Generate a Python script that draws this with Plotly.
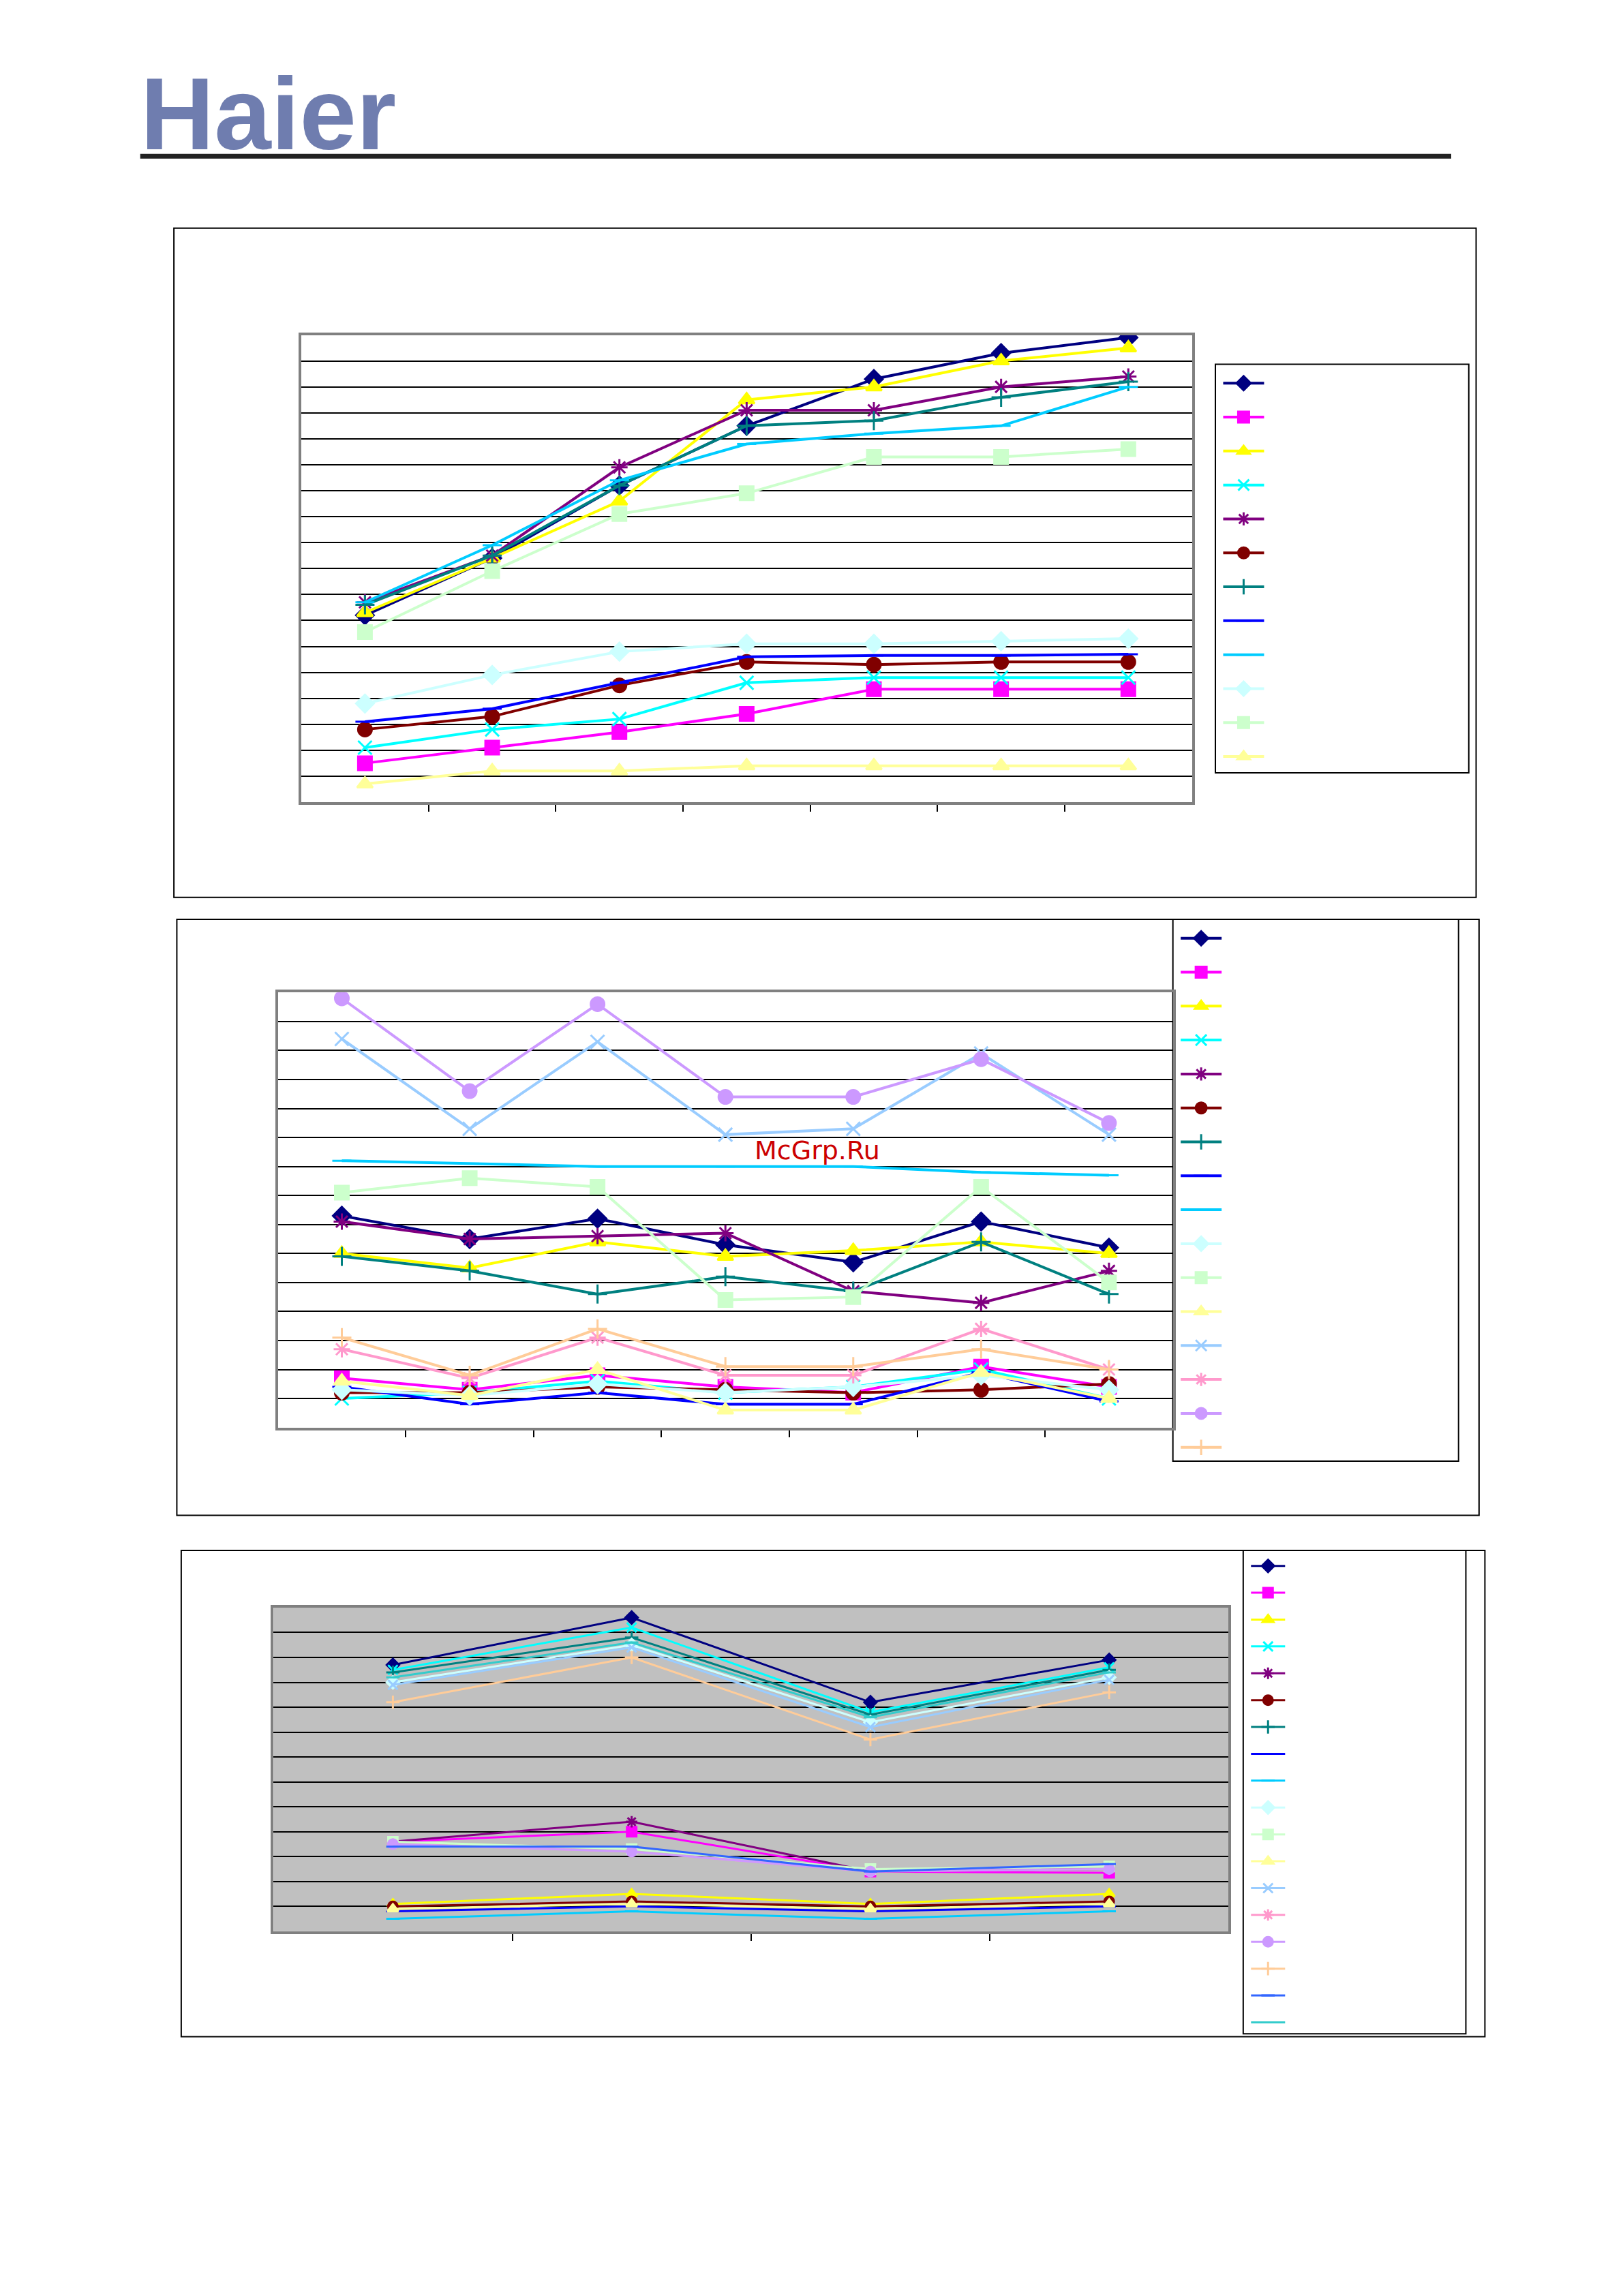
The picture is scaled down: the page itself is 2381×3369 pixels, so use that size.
import plotly.graph_objects as go

W, H = 2381, 3369
S = 2381 / 1108.0  # display->orig scale

def px(x): return (x - 3) * S / W
def py(y): return 1 - (y - 3) * S / H

COLORS = ["#000080", "#FF00FF", "#FFFF00", "#00FFFF", "#800080", "#800000", "#008080",
          "#0000FF", "#00CCFF", "#CCFFFF", "#CCFFCC", "#FFFF99", "#99CCFF", "#FF99CC",
          "#CC99FF", "#FFCC99", "#3366FF", "#33CCCC"]
SYMBOLS = ["diamond", "square", "triangle-up", "x-thin-open", "asterisk-open", "circle",
           "cross-thin-open", "line-ew-open", "line-ew-open", "diamond", "square", "triangle-up",
           "x-thin-open", "asterisk-open", "circle", "cross-thin-open", "line-ew-open", "line-ew-open"]

cats1 = ["1", "2", "3", "4", "5", "6", "7"]
chart1 = [
    [7.2, 9.4, 12.2, 14.5, 16.3, 17.3, 17.9],
    [1.5, 2.1, 2.7, 3.4, 4.35, 4.35, 4.35],
    [7.3, 9.4, 11.6, 15.5, 16.0, 17.0, 17.5],
    [2.1, 2.8, 3.2, 4.6, 4.8, 4.8, 4.8],
    [7.7, 9.5, 12.9, 15.1, 15.1, 16.0, 16.4],
    [2.8, 3.3, 4.5, 5.4, 5.3, 5.4, 5.4],
    [7.6, 9.5, 12.2, 14.5, 14.7, 15.6, 16.2],
    [3.1, 3.6, 4.6, 5.6, 5.65, 5.65, 5.7],
    [7.7, 9.9, 12.4, 13.8, 14.2, 14.5, 16.0],
    [3.8, 4.9, 5.8, 6.1, 6.1, 6.2, 6.3],
    [6.55, 8.9, 11.1, 11.9, 13.3, 13.3, 13.6],
    [0.7, 1.2, 1.2, 1.4, 1.4, 1.4, 1.4],
]
cats2 = ["1", "2", "3", "4", "5", "6", "7"]
chart2 = [
    [7.3, 6.5, 7.2, 6.3, 5.7, 7.1, 6.2],
    [1.7, 1.3, 1.8, 1.4, 1.2, 2.1, 1.4],
    [6.0, 5.5, 6.4, 5.9, 6.1, 6.4, 6.0],
    [1.0, 1.2, 1.6, 1.2, 1.4, 2.0, 1.0],
    [7.1, 6.5, 6.6, 6.7, 4.7, 4.3, 5.4],
    [1.2, 1.2, 1.4, 1.3, 1.2, 1.3, 1.5],
    [5.9, 5.4, 4.6, 5.2, 4.7, 6.4, 4.6],
    [1.4, 0.8, 1.2, 0.8, 0.8, 1.9, 0.9],
    [9.2, 9.1, 9.0, 9.0, 9.0, 8.8, 8.7],
    [1.3, 1.1, 1.5, 1.2, 1.4, 1.8, 1.3],
    [8.1, 8.6, 8.3, 4.4, 4.5, 8.3, 5.0],
    [1.6, 1.1, 2.0, 0.6, 0.6, 1.9, 1.0],
    [13.4, 10.3, 13.3, 10.1, 10.3, 12.9, 10.1],
    [2.7, 1.7, 3.1, 1.8, 1.8, 3.4, 2.0],
    [14.8, 11.6, 14.6, 11.4, 11.4, 12.7, 10.5],
    [3.1, 1.8, 3.4, 2.1, 2.1, 2.7, 2.0],
]
cats3 = ["1", "2", "3", "4"]
chart3 = [
    [10.7, 12.6, 9.2, 10.9],
    [3.6, 4.0, 2.4, 2.35],
    [1.1, 1.5, 1.1, 1.5],
    [10.5, 12.2, 8.8, 10.6],
    [3.6, 4.4, 2.4, 2.5],
    [1.0, 1.2, 1.0, 1.2],
    [10.4, 11.8, 8.7, 10.5],
    [0.8, 1.0, 0.8, 1.0],
    [0.5, 0.8, 0.5, 0.8],
    [10.0, 11.5, 8.4, 10.2],
    [3.6, 3.3, 2.5, 2.6],
    [0.9, 1.1, 0.9, 1.1],
    [9.9, 11.4, 8.2, 10.1],
    [3.5, 3.2, 2.4, 2.5],
    [3.5, 3.2, 2.4, 2.5],
    [9.2, 11.0, 7.7, 9.6],
    [3.4, 3.4, 2.4, 2.7],
    [10.2, 11.6, 8.6, 10.4],
]

fig = go.Figure()

def add_chart(idx, cats, data, lw, ms, legend):
    for i, ys in enumerate(data):
        fig.add_trace(go.Scatter(
            x=list(range(len(cats))), y=ys, mode="lines+markers", name=" ",
            xaxis="x" + ("" if idx == 1 else str(idx)), yaxis="y" + ("" if idx == 1 else str(idx)),
            line=dict(color=COLORS[i], width=lw),
            marker=dict(symbol=SYMBOLS[i], size=ms, color=COLORS[i],
                        line=dict(color=COLORS[i], width=3)),
            legend=legend, showlegend=True))

add_chart(1, cats1, chart1, 4, 20, "legend")
add_chart(2, cats2, chart2, 4, 20, "legend2")
add_chart(3, cats3, chart3, 3, 14, "legend3")

def axes(n, x0, x1, y0, y1, ymax, ntick, grid="#000000", line="#808080"):
    s = "" if n == 1 else str(n)
    fig.layout["xaxis" + s] = dict(domain=[px(x0), px(x1)], range=[-0.5, ntick - 0.5],
        anchor="y" + s, showgrid=False, zeroline=False, showticklabels=False,
        tickvals=[k + 0.5 for k in range(ntick - 1)], ticks="outside", ticklen=10,
        tickcolor="#000", tickwidth=2, showline=True, mirror=True, linecolor=line, linewidth=4)
    fig.layout["yaxis" + s] = dict(domain=[py(y1), py(y0)], range=[0, ymax], anchor="x" + s,
        dtick=1, showgrid=True, gridcolor=grid, gridwidth=2, zeroline=False,
        showticklabels=False, showline=True, mirror=True, linecolor=line, linewidth=4)

axes(1, 205, 813, 228, 547, 18, 7)
axes(2, 189, 800, 677, 974, 15, 7)
axes(3, 186, 838, 1097, 1318, 13, 4)

shapes = []
def rect(x0, y0, x1, y1, w=2, fill=None, color="#000"):
    shapes.append(dict(type="rect", xref="paper", yref="paper", x0=px(x0), x1=px(x1),
                       y0=py(y1), y1=py(y0), line=dict(color=color, width=w),
                       fillcolor=fill, layer="below"))
rect(118, 155, 1007, 612)
rect(120, 627, 1009, 1034)
rect(123, 1058, 1013, 1390)
rect(829, 248, 1002, 527)
rect(800, 627, 995, 997)
rect(848, 1058, 1000, 1388)
rect(186, 1097, 838, 1318, w=0, fill="#C0C0C0")
# header rule
shapes.append(dict(type="line", xref="paper", yref="paper", x0=px(95), x1=px(990),
                   y0=py(106), y1=py(106), line=dict(color="#222", width=7)))

legcommon = dict(bgcolor="rgba(0,0,0,0)", borderwidth=0, xanchor="left", yanchor="top",
                 itemsizing="trace", tracegroupgap=0)
fig.update_layout(
    width=W, height=H, margin=dict(l=0, r=0, t=0, b=0),
    paper_bgcolor="white", plot_bgcolor="rgba(0,0,0,0)", shapes=shapes,
    legend=dict(x=px(832), y=py(247), font=dict(size=36, family="Liberation Sans"), itemwidth=60, **legcommon),
    legend2=dict(x=px(803), y=py(626), font=dict(size=36, family="Liberation Sans"), itemwidth=60, **legcommon),
    legend3=dict(x=px(851), y=py(1057), font=dict(size=28, family="Liberation Sans"), itemwidth=50, **legcommon),
    annotations=[
        dict(text="<b>Haier</b>", xref="paper", yref="paper", x=px(94), y=py(37),
             xanchor="left", yanchor="top", showarrow=False,
             font=dict(size=150, family="Liberation Sans", color="#6F7DAF")),
        dict(text="McGrp.Ru", xref="paper", yref="paper", x=px(557), y=py(785),
             showarrow=False, font=dict(size=38, family="DejaVu Sans", color="#CC0000")),
    ],
)
fig.write_html("out.html")
